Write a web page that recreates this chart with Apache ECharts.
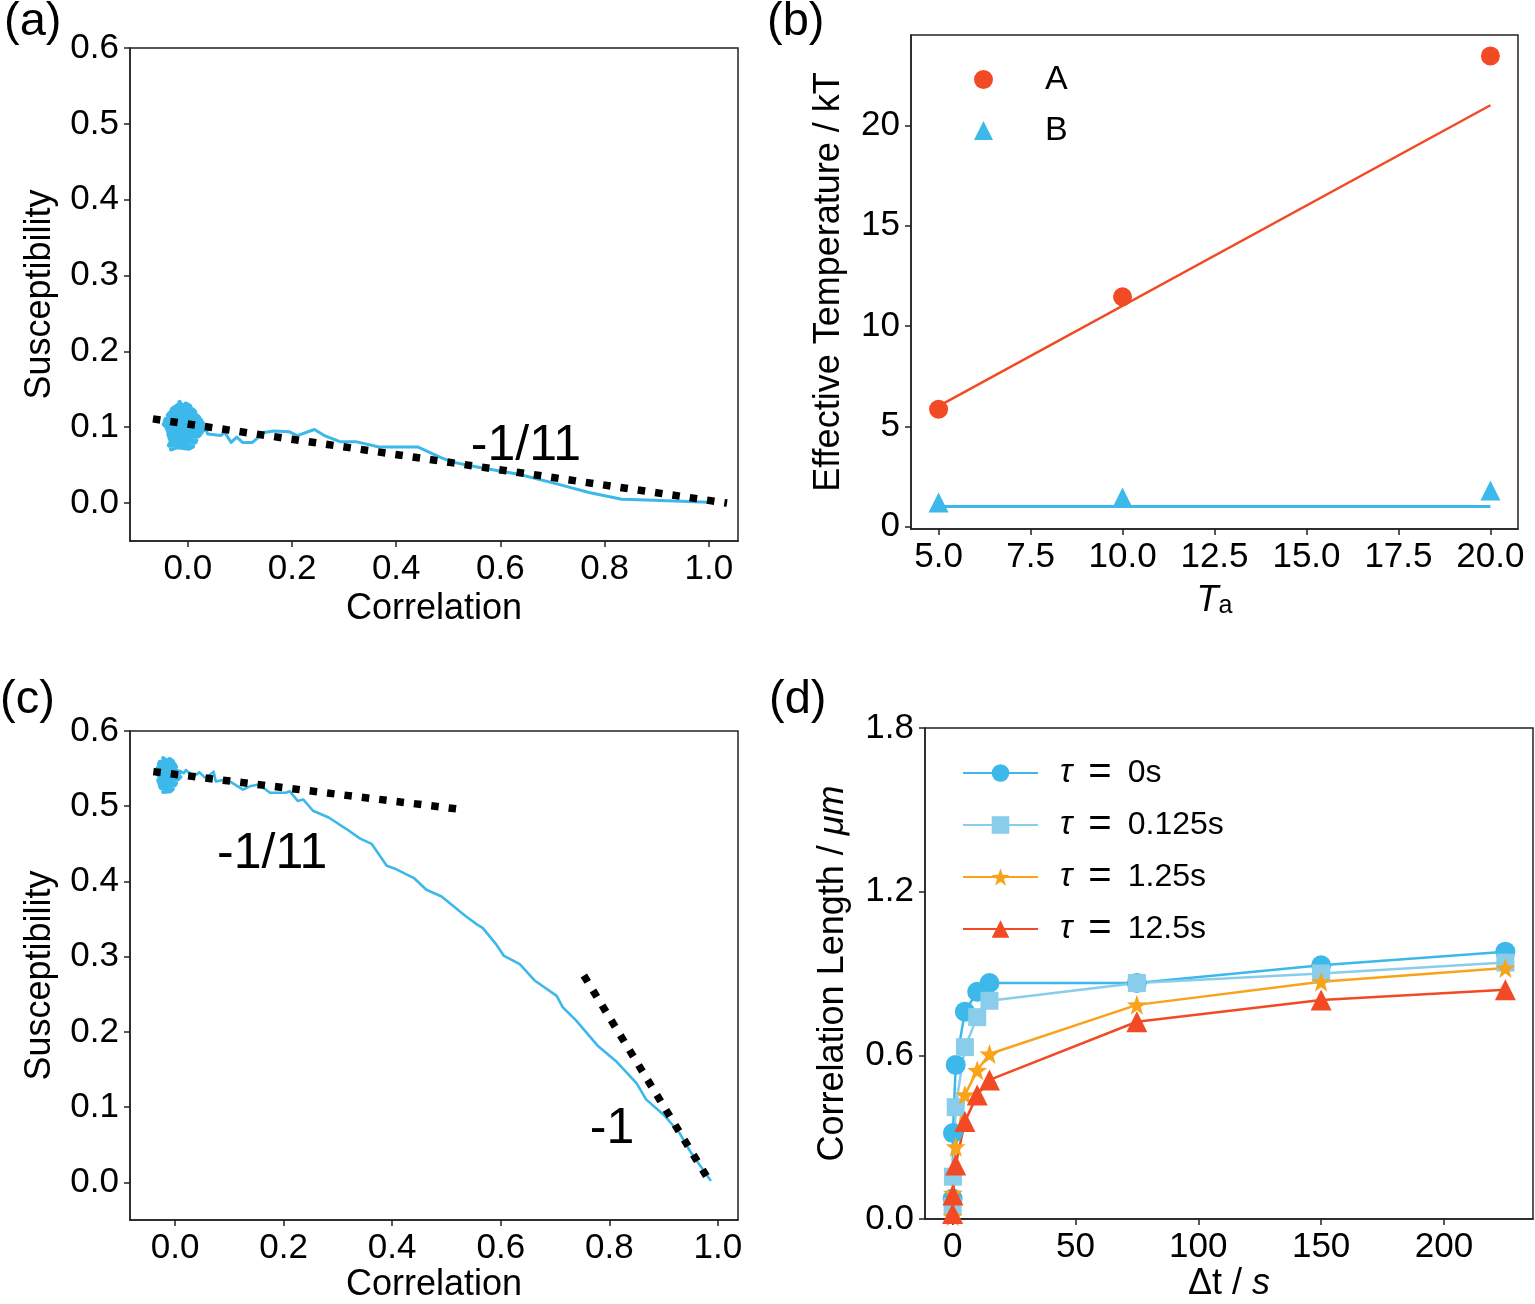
<!DOCTYPE html>
<html>
<head>
<meta charset="utf-8">
<script src="https://cdn.jsdelivr.net/npm/echarts@6/dist/echarts.min.js"></script>
<style>
html,body{margin:0;padding:0;background:#fff;}
#chart{width:1535px;height:1304px;}
</style>
</head>
<body>
<div id="chart"></div>
<script>
// ---------- DATA ----------
// Panel (a): trajectory (dense fluctuating cluster near 0, then a tail)
const blobA = [
  [-0.016,0.133],[-0.010,0.126],[-0.004,0.131],[0.004,0.128],[-0.024,0.127],[-0.030,0.124],[0.010,0.123],
  [0.014,0.120],[-0.034,0.119],[-0.038,0.116],[0.018,0.115],[0.022,0.112],[-0.042,0.111],
  [-0.044,0.108],[0.026,0.107],[0.030,0.104],[-0.046,0.104],[-0.040,0.100],[0.034,0.099],
  [0.030,0.096],[-0.038,0.095],[-0.036,0.092],[0.024,0.091],[0.020,0.088],[-0.035,0.087],
  [-0.034,0.084],[0.016,0.083],[0.014,0.080],[-0.034,0.079],[-0.036,0.076],[0.010,0.075],
  [0.002,0.072],[-0.020,0.074],[-0.032,0.071],[-0.024,0.078],[-0.010,0.078],[0.008,0.082],
  [-0.030,0.082],[-0.037,0.090],[0.022,0.090],[0.027,0.094],[-0.040,0.098],[-0.041,0.106],
  [0.028,0.106],[0.024,0.110],[-0.036,0.113],[-0.032,0.121],[0.012,0.118],[0.006,0.125],
  [-0.020,0.129],[-0.014,0.120],[0.020,0.102],[0.034,0.100]
];
const tailA = [
  [0.034,0.100],[0.038,0.091],[0.063,0.089],[0.071,0.093],[0.083,0.080],[0.094,0.087],
  [0.105,0.080],[0.124,0.080],[0.146,0.093],[0.165,0.095],[0.195,0.094],[0.210,0.089],[0.243,0.097],
  [0.262,0.089],[0.292,0.081],[0.322,0.081],[0.367,0.074],[0.441,0.074],[0.486,0.060],[0.508,0.054],
  [0.560,0.047],[0.635,0.038],[0.710,0.025],[0.770,0.014],[0.833,0.005],[0.880,0.004],[1.000,0.001]
];
const guideA = [[-0.067,0.111],[1.035,0.000]];
// Panel (c)
const blobC = [
  [-0.022,0.564],[-0.016,0.560],[-0.010,0.563],[-0.004,0.560],[-0.028,0.559],[-0.030,0.556],[0.000,0.555],
  [0.002,0.552],[-0.032,0.551],[-0.033,0.548],[0.004,0.547],[0.008,0.544],[-0.032,0.543],
  [-0.030,0.540],[0.010,0.539],[0.006,0.536],[-0.031,0.535],[-0.030,0.532],[0.002,0.531],
  [0.000,0.528],[-0.028,0.527],[-0.026,0.524],[-0.004,0.523],[-0.008,0.520],[-0.022,0.519],
  [-0.018,0.522],[-0.029,0.530],[0.001,0.533],[0.007,0.541],[-0.031,0.546],[-0.029,0.554],
  [-0.002,0.557],[-0.010,0.530],[0.004,0.540],[0.010,0.546]
];
const tailC = [
  [0.010,0.546],[0.016,0.544],[0.020,0.548],[0.025,0.545],[0.035,0.540],[0.045,0.545],[0.055,0.538],
  [0.061,0.540],[0.071,0.546],[0.075,0.533],[0.090,0.535],[0.103,0.532],[0.125,0.522],[0.140,0.527],
  [0.154,0.529],[0.175,0.518],[0.204,0.518],[0.211,0.520],[0.226,0.507],[0.236,0.509],[0.254,0.494],
  [0.283,0.485],[0.315,0.470],[0.341,0.457],[0.362,0.450],[0.390,0.421],[0.405,0.417],[0.441,0.404],
  [0.463,0.389],[0.491,0.380],[0.513,0.367],[0.535,0.354],[0.556,0.343],[0.567,0.338],[0.592,0.316],
  [0.606,0.301],[0.635,0.290],[0.663,0.268],[0.703,0.248],[0.714,0.233],[0.739,0.215],[0.778,0.182],
  [0.814,0.160],[0.850,0.132],[0.868,0.110],[0.900,0.090],[0.929,0.066],[0.950,0.040],[0.986,0.003]
];
const guideC1 = [[-0.040,0.546],[0.535,0.495]];
const guideC2 = [[0.753,0.275],[0.985,0.001]];
// Panel (b)
const Ta = [5, 10, 20];
const effA = [5.85, 11.45, 23.45];
const effB = [1.2, 1.45, 1.8];
const fitA = [[5, 6.0], [20, 21.0]];
const fitB = [[5, 1.0], [20, 1.0]];
// Panel (d)
const dt = [0, 0.125, 1.25, 5, 10, 15, 75, 150, 225];
const L_tau0 = [0.075, 0.315, 0.565, 0.76, 0.833, 0.865, 0.865, 0.93, 0.98];
const L_tau0125 = [0.045, 0.155, 0.41, 0.63, 0.74, 0.80, 0.865, 0.90, 0.94];
const L_tau125 = [0.01, 0.095, 0.265, 0.455, 0.545, 0.605, 0.785, 0.87, 0.92];
const L_tau125b = [0.02, 0.088, 0.198, 0.357, 0.455, 0.51, 0.723, 0.803, 0.84];
// tick labels
const ticksCorr = [0, 0.2, 0.4, 0.6, 0.8, 1.0];
const ticksSus = [0, 0.1, 0.2, 0.3, 0.4, 0.5, 0.6];
const ticksTa = [5, 7.5, 10, 12.5, 15, 17.5, 20];
const ticksEff = [0, 5, 10, 15, 20];
const ticksDt = [0, 50, 100, 150, 200];
const ticksLen = [0, 0.6, 1.2, 1.8];

// ---------- STYLE ----------
const FONT = '"Liberation Sans", Arial, sans-serif';
const BLUE = '#3DB8EA', LBLUE = '#89CDEB', ORANGE = '#F9A31B', RED = '#F14A24';
const STAR = 'path://M0,-10L2.35,-3.24L9.51,-3.09L3.8,1.24L5.88,8.09L0,4L-5.88,8.09L-3.8,1.24L-9.51,-3.09L-2.35,-3.24Z';
const TICK_FS = 35, NAME_FS = 36;

function ax(grid, min, max, ticks, dec, name, gap, rich) {
  return {
    gridIndex: grid, type: 'value', min: min, max: max,
    splitLine: {show: false},
    axisLine: {onZero: false, lineStyle: {color: '#222', width: 1.5}},
    axisTick: {inside: false, length: 6, lineStyle: {color: '#222', width: 1.5}, customValues: ticks},
    axisLabel: {customValues: ticks, margin: 11, color: '#000', fontSize: TICK_FS, fontFamily: FONT,
      formatter: v => dec === null ? String(Math.round(v)) : v.toFixed(dec)},
    name: name, nameLocation: 'middle', nameGap: gap,
    nameTextStyle: {color: '#000', fontSize: NAME_FS, fontFamily: FONT, rich: rich || {}}
  };
}
const italicRich = {i: {fontStyle: 'italic', fontSize: NAME_FS, fontFamily: FONT, color: '#000'}};
const annot = (txt) => ({show: true, position: 'inside', formatter: txt, fontSize: 50, fontFamily: FONT, color: '#000', opacity: 1});
const trace = (xi, data, w) => ({type: 'line', xAxisIndex: xi, yAxisIndex: xi, data: data, showSymbol: false, silent: true,
  lineStyle: {color: BLUE, width: w, join: 'round', cap: 'round'}});

const option = {
  animation: false,
  backgroundColor: '#fff',
  textStyle: {fontFamily: FONT},
  grid: [
    {left: 130, top: 48, width: 608, height: 493, show: true, borderColor: '#222', borderWidth: 1.5},
    {left: 911, top: 35, width: 607, height: 494, show: true, borderColor: '#222', borderWidth: 1.5},
    {left: 130, top: 731, width: 608, height: 494, show: true, borderColor: '#222', borderWidth: 1.5},
    {left: 925, top: 728, width: 608, height: 491, show: true, borderColor: '#222', borderWidth: 1.5}
  ],
  xAxis: [
    ax(0, -0.111, 1.056, ticksCorr, 1, 'Correlation', 50),
    ax(1, 4.25, 20.75, ticksTa, 1, '{t|T}{s|a}', 54, {
      t: {fontStyle: 'italic', fontSize: NAME_FS, fontFamily: FONT, color: '#000', lineHeight: 36, verticalAlign: 'top'},
      s: {fontSize: 25, fontFamily: FONT, color: '#000', lineHeight: 30, verticalAlign: 'bottom'}
    }),
    ax(2, -0.083, 1.037, ticksCorr, 1, 'Correlation', 47),
    ax(3, -11.25, 236.25, ticksDt, null, 'Δt / {i|s}', 47, italicRich)
  ],
  yAxis: [
    ax(0, -0.05, 0.6, ticksSus, 1, 'Susceptibility', 72),
    ax(1, -0.12, 24.5, ticksEff, null, 'Effective Temperature / kT', 64),
    ax(2, -0.05, 0.6, ticksSus, 1, 'Susceptibility', 72),
    ax(3, 0, 1.8, ticksLen, 1, 'Correlation Length / {i|μm}', 74, italicRich)
  ],
  legend: [
    {
      left: 969, top: 54, orient: 'vertical', itemWidth: 19, itemHeight: 19, itemGap: 10,
      data: ['A', 'B'],
      textStyle: {fontSize: 34, fontFamily: FONT, color: '#000', lineHeight: 41, padding: [0, 0, 0, 47]}
    },
    {
      left: 957, top: 748, orient: 'vertical', itemWidth: 75, itemHeight: 22, itemGap: 12,
      data: ['τ = 0s', 'τ = 0.125s', 'τ = 1.25s', 'τ = 12.5s'],
      formatter: n => '{i|τ}{e|=}' + n.split(' = ')[1],
      textStyle: {fontSize: 32, fontFamily: FONT, color: '#000', lineHeight: 40, padding: [0, 0, 0, 17],
        rich: {
          i: {fontStyle: 'italic', fontSize: 33, fontFamily: FONT, color: '#000'},
          e: {fontSize: 40, fontFamily: FONT, color: '#000', padding: [0, 16, 0, 16]}
        }}
    }
  ],
  graphic: [
    {type: 'text', left: 4, top: -1, style: {text: '(a)', fontSize: 47, fontFamily: FONT, fill: '#000'}},
    {type: 'text', left: 767, top: -1, style: {text: '(b)', fontSize: 47, fontFamily: FONT, fill: '#000'}},
    {type: 'text', left: 0, top: 677, style: {text: '(c)', fontSize: 47, fontFamily: FONT, fill: '#000'}},
    {type: 'text', left: 769, top: 677, style: {text: '(d)', fontSize: 47, fontFamily: FONT, fill: '#000'}}
  ],
  series: [
    // (a)
    trace(0, blobA, 4.5),
    trace(0, tailA, 3),
    {type: 'line', xAxisIndex: 0, yAxisIndex: 0, data: guideA, showSymbol: false, silent: true,
      lineStyle: {color: '#000', width: 7.5, type: [7.5, 10], cap: 'butt'}},
    {type: 'scatter', xAxisIndex: 0, yAxisIndex: 0, data: [[0.649, 0.075]], symbolSize: 0, silent: true,
      itemStyle: {opacity: 1}, label: annot('-1/11')},
    // (b)
    {type: 'line', xAxisIndex: 1, yAxisIndex: 1, data: fitA, showSymbol: false, silent: true,
      lineStyle: {color: RED, width: 2.5}},
    {type: 'line', xAxisIndex: 1, yAxisIndex: 1, data: fitB, showSymbol: false, silent: true,
      lineStyle: {color: BLUE, width: 3}},
    {name: 'A', type: 'scatter', xAxisIndex: 1, yAxisIndex: 1, data: Ta.map((x, i) => [x, effA[i]]),
      symbol: 'circle', symbolSize: 19, itemStyle: {color: RED, opacity: 1}},
    {name: 'B', type: 'scatter', xAxisIndex: 1, yAxisIndex: 1, data: Ta.map((x, i) => [x, effB[i]]),
      symbol: 'triangle', symbolSize: 20, itemStyle: {color: BLUE, opacity: 1}},
    // (c)
    trace(2, blobC, 4),
    trace(2, tailC, 2.6),
    {type: 'line', xAxisIndex: 2, yAxisIndex: 2, data: guideC1, showSymbol: false, silent: true,
      lineStyle: {color: '#000', width: 7.5, type: [7.5, 10], cap: 'butt'}},
    {type: 'line', xAxisIndex: 2, yAxisIndex: 2, data: guideC2, showSymbol: false, silent: true,
      lineStyle: {color: '#000', width: 7.5, type: [7.5, 10], cap: 'butt'}},
    {type: 'scatter', xAxisIndex: 2, yAxisIndex: 2, data: [[0.179, 0.436]], symbolSize: 0, silent: true,
      itemStyle: {opacity: 1}, label: annot('-1/11')},
    {type: 'scatter', xAxisIndex: 2, yAxisIndex: 2, data: [[0.805, 0.071]], symbolSize: 0, silent: true,
      itemStyle: {opacity: 1}, label: annot('-1')},
    // (d)
    {name: 'τ = 0s', type: 'line', xAxisIndex: 3, yAxisIndex: 3, data: dt.map((x, i) => [x, L_tau0[i]]),
      symbol: 'circle', symbolSize: 20, showAllSymbol: true, lineStyle: {color: BLUE, width: 2.5}, itemStyle: {color: BLUE}},
    {name: 'τ = 0.125s', type: 'line', xAxisIndex: 3, yAxisIndex: 3, data: dt.map((x, i) => [x, L_tau0125[i]]),
      symbol: 'rect', symbolSize: 18, showAllSymbol: true, lineStyle: {color: LBLUE, width: 2.5}, itemStyle: {color: LBLUE}},
    {name: 'τ = 1.25s', type: 'line', xAxisIndex: 3, yAxisIndex: 3, data: dt.map((x, i) => [x, L_tau125[i]]),
      symbol: STAR, symbolSize: 20, showAllSymbol: true, lineStyle: {color: ORANGE, width: 2.5}, itemStyle: {color: ORANGE}},
    {name: 'τ = 12.5s', type: 'line', xAxisIndex: 3, yAxisIndex: 3, data: dt.map((x, i) => [x, L_tau125b[i]]),
      symbol: 'triangle', symbolSize: 21, showAllSymbol: true, lineStyle: {color: RED, width: 2.5}, itemStyle: {color: RED}}
  ]
};

const chart = echarts.init(document.getElementById('chart'), null, {renderer: 'canvas'});
chart.setOption(option);
</script>
</body>
</html>
